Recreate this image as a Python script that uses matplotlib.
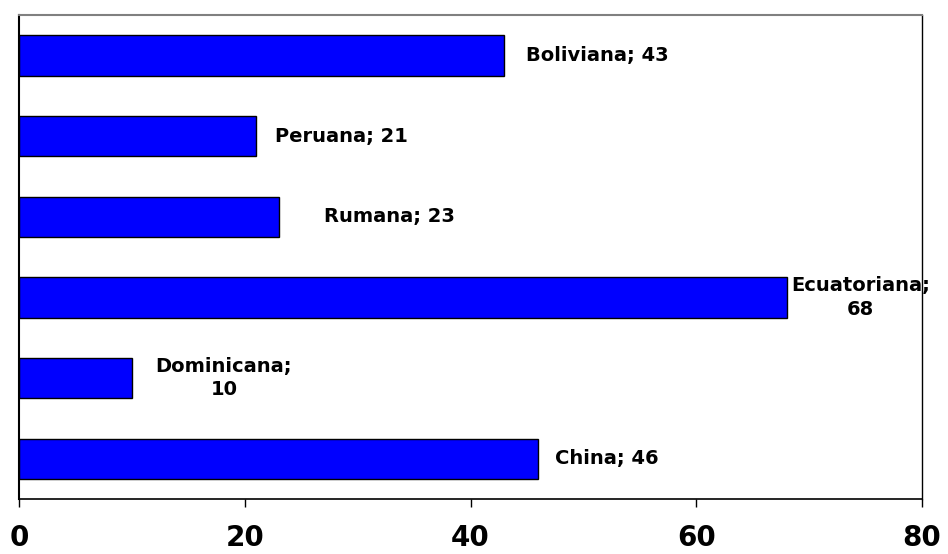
import matplotlib.pyplot as plt

# data, bottom to top
categories = ["China", "Dominicana", "Ecuatoriana", "Rumana", "Peruana", "Boliviana"]
values = [46, 10, 68, 23, 21, 43]
label_texts = ["China; 46", "Dominicana;\n10", "Ecuatoriana;\n68", "Rumana; 23", "Peruana; 21", "Boliviana; 43"]
xticks = [0, 20, 40, 60, 80]

# label centre offsets from bar end (pixels), mimicking the original layout
label_dx = [69, 92, 74, 111, 85, 93]

fig = plt.figure(figsize=(9.48, 5.54), dpi=100)
fig.patch.set_facecolor('white')
ax = fig.add_axes([19 / 948, 1 - 499 / 554, (922 - 19) / 948, (499 - 15) / 554])

ypos = list(range(len(categories)))
ax.barh(ypos, values, height=0.5, color="#0000FF", edgecolor="black", linewidth=1)

px = 72 / 100  # pixels -> points
for y, v, txt, dx in zip(ypos, values, label_texts, label_dx):
    ax.annotate(txt, xy=(v, y), xytext=(dx * px, 0), textcoords='offset points',
                ha='center', va='center', fontsize=14, fontweight='bold',
                family='DejaVu Sans', linespacing=1.3, annotation_clip=False)

ax.set_xlim(0, 80)
ax.set_ylim(-0.5, len(categories) - 0.5)
ax.set_xticks(xticks)
ax.set_xticklabels([str(t) for t in xticks], fontsize=20, fontweight='bold', family='DejaVu Sans')
ax.set_yticks([])
ax.tick_params(axis='x', direction='out', length=6, width=1, pad=12)

ax.spines['top'].set_color('#808080')
ax.spines['top'].set_linewidth(1.5)
ax.spines['left'].set_linewidth(1.5)
ax.spines['right'].set_linewidth(1)
ax.spines['bottom'].set_linewidth(1.2)

plt.savefig("out.png", dpi=100)
